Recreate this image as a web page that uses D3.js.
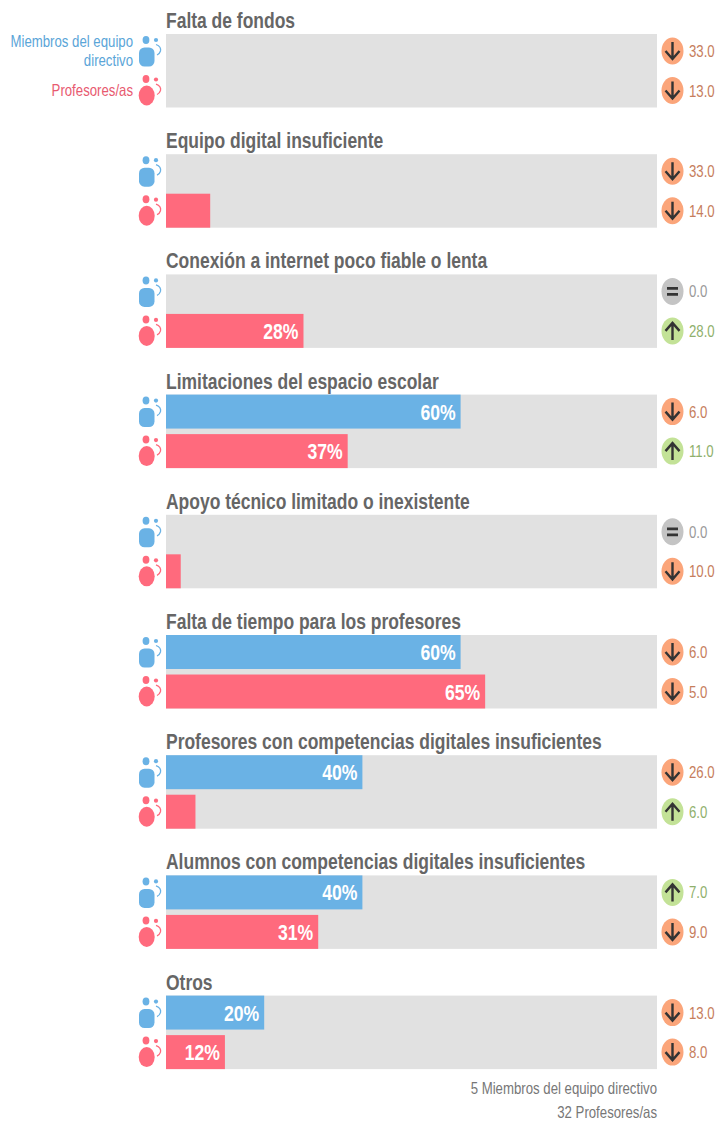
<!DOCTYPE html>
<html>
<head>
<meta charset="utf-8">
<script src="https://cdn.jsdelivr.net/npm/d3@7"></script>
<style>
    html, body { margin: 0; padding: 0; background: #fff; }
    text { font-family: "Liberation Sans", sans-serif; }
</style>
</head>
<body>
<svg id="chart"></svg>
<script>
const categories = [
    "Falta de fondos",
    "Equipo digital insuficiente",
    "Conexión a internet poco fiable o lenta",
    "Limitaciones del espacio escolar",
    "Apoyo técnico limitado o inexistente",
    "Falta de tiempo para los profesores",
    "Profesores con competencias digitales insuficientes",
    "Alumnos con competencias digitales insuficientes",
    "Otros"
];
const seriesNames = ["Miembros del equipo directivo", "Profesores/as"];
const directivos = [0, 0, 0, 60, 0, 60, 40, 40, 20];
const profesores = [0, 9, 28, 37, 3, 65, 6, 31, 12];
// change against the previous survey, sign gives the arrow direction
const deltaDirectivos = [-33, -33, 0, -6, 0, -6, -26, 7, -13];
const deltaProfesores = [-13, -14, 28, 11, -10, -5, 6, -9, -8];
const footnotes = ["5 Miembros del equipo directivo", "32 Profesores/as"];

const width = 716, height = 1122;
const blue = "#6ab2e5", red = "#ff6a7d";
const textSquash = 0.8;

const svg = d3.select("#chart")
    .attr("width", width)
    .attr("height", height)
    .style("display", "block");

const xScale = d3.scaleLinear().domain([0, 100]).range([166, 657]);
const groupScale = d3.scaleBand()
    .domain(categories)
    .range([34, 34 + 120.2 * categories.length])
    .paddingInner(0)
    .paddingOuter(0)
    .align(0);
const barScale = d3.scaleBand()
    .domain([0, 1])
    .range([0, 73.5])
    .paddingInner(0.14);

const deltaStyle = d => {
    if (d > 0) return {fill: "#c3e297", text: "#8fb06c"};
    if (d < 0) return {fill: "#fba57a", text: "#c67d5c"};
    return {fill: "#c4c4c4", text: "#999999"};
};

// all labels in the source are slightly condensed
function label(parent, x, y, str, size, color, anchor, weight) {
    return parent.append("text")
        .attr("transform", `translate(${x},${y}) scale(${textSquash},1)`)
        .attr("text-anchor", anchor || "start")
        .attr("font-size", size)
        .attr("font-weight", weight || 400)
        .attr("fill", color)
        .text(str);
}

function personIcon(parent, color, kind) {
    const g = parent.append("g").attr("fill", color);
    if (kind === 0) {
        g.append("ellipse").attr("cx", 146).attr("cy", 6).attr("rx", 3.4).attr("ry", 4);
        g.append("rect").attr("x", 139).attr("y", 13.5).attr("width", 15.5).attr("height", 19).attr("rx", 5.5);
    } else {
        g.append("ellipse").attr("cx", 146).attr("cy", 5.5).attr("rx", 3.4).attr("ry", 4);
        g.append("ellipse").attr("cx", 146.7).attr("cy", 22).attr("rx", 8).attr("ry", 10);
    }
    g.append("circle").attr("cx", 156).attr("cy", 6).attr("r", 2.1);
    g.append("path")
        .attr("d", "M156 10.5 Q161.5 12.5 160.5 17 Q159.5 20 157 21")
        .attr("fill", "none")
        .attr("stroke", color)
        .attr("stroke-width", 1.3);
}

function deltaIcon(parent, value, cy) {
    const st = deltaStyle(value);
    const cx = 672.5;
    parent.append("ellipse")
        .attr("cx", cx).attr("cy", cy)
        .attr("rx", 11).attr("ry", 13.5)
        .attr("fill", st.fill);
    const mark = parent.append("path")
        .attr("fill", "none")
        .attr("stroke", "#333")
        .attr("stroke-width", 2.4);
    if (value === 0) {
        mark.attr("d", `M${cx - 5.5} ${cy - 3}H${cx + 5.5}M${cx - 5.5} ${cy + 3}H${cx + 5.5}`)
            .attr("stroke-width", 2.8);
    } else if (value < 0) {
        mark.attr("d", `M${cx} ${cy - 9}V${cy + 8}M${cx - 7} ${cy}L${cx} ${cy + 8}L${cx + 7} ${cy}`);
    } else {
        mark.attr("d", `M${cx} ${cy + 9}V${cy - 8}M${cx - 7} ${cy}L${cx} ${cy - 8}L${cx + 7} ${cy}`);
    }
    label(parent, 689, cy + 6, Math.abs(value).toFixed(1), 16.5, st.text);
}

categories.forEach((cat, i) => {
    const g = svg.append("g").attr("transform", `translate(0,${groupScale(cat)})`);

    label(g, 166, -6, cat, 21.85, "#666666", "start", 700);

    // one grey track behind both bars of a group
    g.append("rect")
        .attr("x", xScale(0)).attr("y", 0)
        .attr("width", xScale(100) - xScale(0)).attr("height", 73.5)
        .attr("fill", "#e1e1e1");

    [directivos[i], profesores[i]].forEach((v, j) => {
        const row = g.append("g").attr("transform", `translate(0,${barScale(j)})`);
        const h = barScale.bandwidth();
        const color = j === 0 ? blue : red;

        if (v > 0) {
            row.append("rect")
                .attr("x", xScale(0)).attr("y", 0)
                .attr("width", xScale(v) - xScale(0)).attr("height", h)
                .attr("fill", color);
        }
        // short bars have no room for the value
        if (v >= 10) {
            label(row, xScale(v) - 5, h / 2 + 8, v + "%", 22, "#fff", "end", 700);
        }

        personIcon(row, color, j);
        deltaIcon(row, j === 0 ? deltaDirectivos[i] : deltaProfesores[i], h / 2);
    });
});

// series key, only beside the first group
label(svg, 133, 47, "Miembros del equipo", 16.5, "#5aa5d8", "end");
label(svg, 133, 66, "directivo", 16.5, "#5aa5d8", "end");
label(svg, 133, 96, seriesNames[1], 16.5, "#e85a70", "end");

label(svg, 657, 1094, footnotes[0], 16.5, "#777", "end");
label(svg, 657, 1118, footnotes[1], 16.5, "#777", "end");
</script>
</body>
</html>
